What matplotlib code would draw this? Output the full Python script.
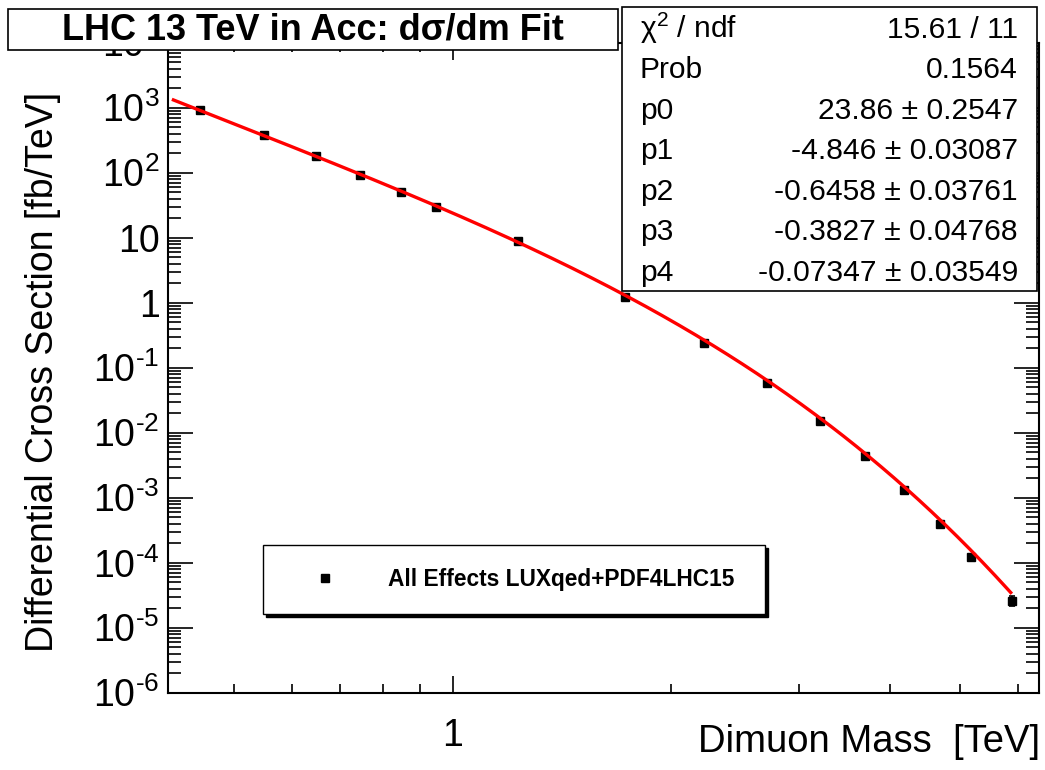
import numpy as np
import matplotlib
matplotlib.use('Agg')
import matplotlib.pyplot as plt
from matplotlib.patches import Rectangle
from matplotlib.lines import Line2D
from matplotlib.ticker import LogLocator, FuncFormatter, NullFormatter, FixedLocator

plt.rcParams['font.family'] = ['Liberation Sans', 'DejaVu Sans']
plt.rcParams['mathtext.fontset'] = 'custom'
plt.rcParams['mathtext.rm'] = 'Liberation Sans'
plt.rcParams['mathtext.it'] = 'Liberation Sans:italic'
plt.rcParams['mathtext.bf'] = 'Liberation Sans:bold'

# ---------------- data ----------------
mass = [0.448, 0.549, 0.648, 0.745, 0.847, 0.947, 1.23, 1.725,
        2.22, 2.71, 3.20, 3.70, 4.19, 4.69, 5.17, 5.89]
xsec = [922, 380, 181, 92.2, 51.0, 29.7, 8.99, 1.21,
        0.2425, 0.0575, 0.0153, 4.38e-3, 1.31e-3, 3.94e-4, 1.24e-4, 2.60e-5]
xsec_err = [9, 3.5, 1.6, 0.8, 0.45, 0.27, 0.08, 0.012,
            0.0025, 0.0006, 0.00017, 5e-5, 1.6e-5, 5.5e-6, 2.0e-6, 4.2e-6]

fit_names = ['p0', 'p1', 'p2', 'p3', 'p4']
fit_values = [23.86, -4.846, -0.6458, -0.3827, -0.07347]
fit_errors = [0.2547, 0.03087, 0.03761, 0.04768, 0.03549]
fit_value_text = ['23.86', '-4.846', '-0.6458', '-0.3827', '-0.07347']
fit_error_text = ['0.2547', '0.03087', '0.03761', '0.04768', '0.03549']
chi2_text = '15.61 / 11'
prob_text = '0.1564'
fit_range = [0.41, 5.89]

x_major = [1]
y_decades = [-6, -5, -4, -3, -2, -1, 0, 1, 2, 3, 4]

title = 'LHC 13 TeV in Acc: dσ/dm Fit'
xlabel = 'Dimuon Mass  [TeV]'
ylabel = 'Differential Cross Section [fb/TeV]'
legend_label = 'All Effects LUXqed+PDF4LHC15'

W, H = 1045, 770
fig = plt.figure(figsize=(W / 100, H / 100), dpi=100)
fig.patch.set_facecolor('white')

def fx(px):
    return px / W

def fy(py):
    return 1 - py / H

ax_l, ax_r, ax_t, ax_b = 168, 1039, 42.7, 692.7
ax = fig.add_axes([fx(ax_l), fy(ax_b), (ax_r - ax_l) / W, (ax_b - ax_t) / H])
ax.set_xscale('log')
ax.set_yscale('log')
ax.set_xlim(0.405, 6.42)
ax.set_ylim(1e-6, 1e4)

# data points
ax.errorbar(mass, xsec, yerr=xsec_err, fmt='s', color='black', ms=5.8,
            elinewidth=1.2, capsize=2.5, capthick=1.2, zorder=3)

# fit curve from the displayed parameters
m = np.geomspace(fit_range[0], fit_range[1], 400)
L = np.log(m)
f = fit_values[0] * np.exp(sum(fit_values[i] * L ** i for i in range(1, 5)))
ax.plot(m, f, color='#ff0000', lw=2.4, zorder=4, solid_capstyle='butt')

# axes styling
for s in ax.spines.values():
    s.set_linewidth(1.5)

def ylab(v, pos):
    k = int(round(np.log10(v)))
    if k == 0:
        return '1'
    if k == 1:
        return '10'
    if k < 0:
        return r'$\mathregular{10^{‐%d}}$' % (-k)
    return r'$\mathregular{10^{%d}}$' % k

ax.yaxis.set_major_locator(FixedLocator([10.0 ** k for k in y_decades]))
ax.yaxis.set_minor_locator(LogLocator(base=10, subs=np.arange(2, 10), numticks=30))
ax.yaxis.set_major_formatter(FuncFormatter(ylab))
ax.yaxis.set_minor_formatter(NullFormatter())
ax.xaxis.set_major_locator(FixedLocator(x_major))
ax.xaxis.set_minor_locator(LogLocator(base=10, subs=np.arange(2, 10), numticks=30))
ax.xaxis.set_major_formatter(FuncFormatter(lambda v, p: '%g' % v))
ax.xaxis.set_minor_formatter(NullFormatter())

ax.tick_params(which='both', direction='in', top=True, right=True, width=1.2)
ax.tick_params(axis='y', which='major', length=18, labelsize=27, pad=6)
ax.tick_params(axis='y', which='minor', length=9.5)
ax.tick_params(axis='x', which='major', length=12.5, labelsize=27, pad=18)
ax.tick_params(axis='x', which='minor', length=6.5)

# axis titles
fig.text(fx(43), fy(372), ylabel, rotation=90, ha='center', va='center', fontsize=27)
fig.text(fx(1040), fy(752), xlabel, ha='right', va='baseline', fontsize=27.5)

# legend
handle = Line2D([], [], marker='s', color='black', linestyle='none', markersize=5.5)
leg = ax.legend([handle], [legend_label], loc='upper left', mode='expand',
                bbox_to_anchor=(fx(263), fy(613), 502 / W, 68 / H),
                bbox_transform=fig.transFigure,
                prop={'weight': 'bold', 'size': 16.4}, frameon=True, fancybox=False,
                edgecolor='black', framealpha=1, borderpad=1.02, handlelength=3.4,
                handletextpad=1.07, borderaxespad=0,
                shadow={'color': 'black', 'alpha': 1})
leg.get_frame().set_linewidth(1.0)
leg.set_zorder(6)

# title box
fig.add_artist(Rectangle((fx(8), fy(50)), (618 - 8) / W, (50 - 9) / H,
                         transform=fig.transFigure, facecolor='white',
                         edgecolor='black', lw=1.2, zorder=5))
fig.text(fx(313), fy(30), title, ha='center', va='center', fontsize=26,
         weight='bold', zorder=6)

# stats box
fig.add_artist(Rectangle((fx(622), fy(291)), (1037 - 622) / W, (291 - 7) / H,
                         transform=fig.transFigure, facecolor='white',
                         edgecolor='black', lw=1.2, zorder=5))
rows_left = ['χ$^{2}$ / ndf', 'Prob'] + fit_names
rows_right = [chi2_text, prob_text] + ['%s ± %s' % (v, e) for v, e in zip(fit_value_text, fit_error_text)]
for i, (a, b) in enumerate(zip(rows_left, rows_right)):
    yb = 37.5 + 40.6 * i
    fig.text(fx(640), fy(yb), a, ha='left', va='baseline', fontsize=21.6, zorder=6)
    fig.text(fx(1018), fy(yb), b, ha='right', va='baseline', fontsize=21.6, zorder=6)

fig.savefig('out.png', dpi=100)
